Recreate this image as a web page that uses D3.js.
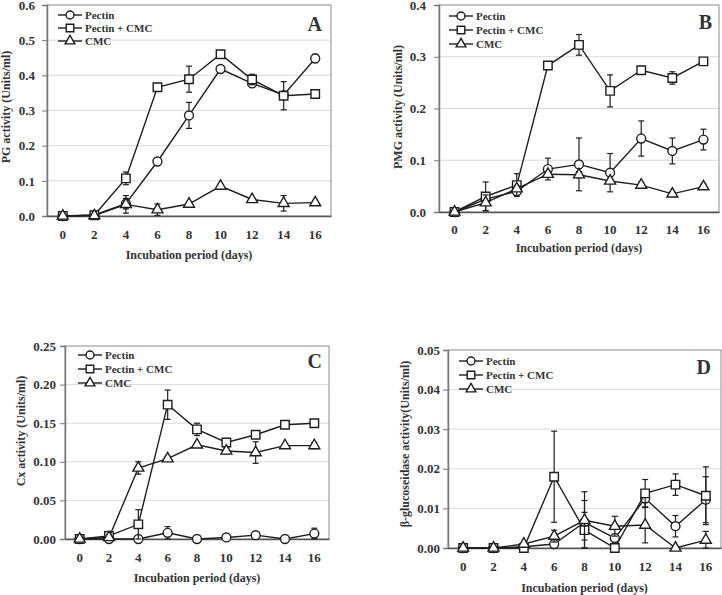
<!DOCTYPE html>
<html><head><meta charset="utf-8">
<script src="https://cdn.jsdelivr.net/npm/d3@7/dist/d3.min.js"></script>
<style>
body{margin:0;background:#fff;}
text{font-family:"Liberation Serif","Times New Roman",serif;font-weight:bold;fill:#333;}
</style></head>
<body><svg id="c" width="722" height="595"></svg>
<script>
const days = ["0","2","4","6","8","10","12","14","16"];
const seriesNames = ["Pectin","Pectin + CMC","CMC"];

// Panel A – PG activity
const pgPectin = [0,0.003,0.035,0.155,0.286,0.418,0.377,0.344,0.448];
const pgPectinErr = [0,0.002,0.015,0.004,0.037,0.005,0.010,0.006,0.012];
const pgMix = [0,0.002,0.107,0.366,0.389,0.460,0.388,0.342,0.347];
const pgMixErr = [0,0.002,0.018,0.005,0.037,0.005,0.015,0.040,0.010];
const pgCMC = [0,0.001,0.033,0.018,0.034,0.085,0.047,0.036,0.038];
const pgCMCErr = [0,0.001,0.025,0.016,0.004,0.005,0.004,0.022,0.004];
const pgTicks = [0,0.1,0.2,0.3,0.4,0.5,0.6];

// Panel B – PMG activity
const pmgPectin = [0,0.025,0.040,0.083,0.092,0.076,0.142,0.118,0.140];
const pmgPectinErr = [0,0.005,0.005,0.021,0.051,0.037,0.034,0.025,0.020];
const pmgMix = [0,0.030,0.052,0.283,0.323,0.234,0.274,0.259,0.291];
const pmgMixErr = [0,0.028,0.022,0.006,0.020,0.031,0.004,0.012,0.004];
const pmgCMC = [0,0.018,0.045,0.073,0.072,0.060,0.052,0.035,0.049];
const pmgCMCErr = [0,0.015,0.005,0.004,0.006,0.005,0.006,0.003,0.005];
const pmgTicks = [0,0.1,0.2,0.3,0.4];

// Panel C – Cx activity
const cxPectin = [0,0,0,0.008,0,0.002,0.005,0,0.007];
const cxPectinErr = [0,0,0,0.008,0,0.002,0.003,0,0.007];
const cxMix = [0,0.004,0.019,0.174,0.142,0.125,0.135,0.148,0.150];
const cxMixErr = [0,0.001,0.019,0.019,0.008,0.004,0.002,0.002,0.004];
const cxCMC = [0,0.002,0.092,0.104,0.122,0.114,0.112,0.121,0.121];
const cxCMCErr = [0,0.001,0.008,0.003,0.003,0.004,0.014,0.002,0.004];
const cxTicks = [0,0.05,0.10,0.15,0.20,0.25];

// Panel D – β-glucosidase activity
const bgPectin = [0,0,0.0003,0.001,0.0065,0.0025,0.0125,0.0055,0.0122];
const bgPectinErr = [0,0,0,0.0005,0.0077,0.001,0.0022,0.0027,0.0058];
const bgMix = [0,0,0,0.018,0.0045,0,0.0138,0.016,0.0132];
const bgMixErr = [0,0,0,0.0115,0.0045,0,0.0035,0.0027,0.0073];
const bgCMC = [0,0,0.001,0.003,0.007,0.0055,0.0058,0,0.002];
const bgCMCErr = [0,0,0.0003,0.0015,0.005,0.0025,0.0045,0,0.0022];
const bgTicks = [0,0.01,0.02,0.03,0.04,0.05];

const panels = [
  {letter:"A", ytitle:"PG activity (Units/ml)", vals:[pgPectin,pgMix,pgCMC], errs:[pgPectinErr,pgMixErr,pgCMCErr], ticks:pgTicks, fmt:".1f",
   x0:47,x1:331,y0:216,y1:5, tickGap:12, xlabY:239, xtitY:259, ytX:10, ytY:107, letX:322, letY:31, legX:58, legY:15, legDy:13},
  {letter:"B", ytitle:"PMG activity (Units/ml)", vals:[pmgPectin,pmgMix,pmgCMC], errs:[pmgPectinErr,pmgMixErr,pmgCMCErr], ticks:pmgTicks, fmt:".1f",
   x0:439,x1:719,y0:212,y1:5, tickGap:13, xlabY:234, xtitY:252, ytX:402, ytY:107, letX:712, letY:29, legX:449, legY:16, legDy:14},
  {letter:"C", ytitle:"Cx activity  (Units/ml)", vals:[cxPectin,cxMix,cxCMC], errs:[cxPectinErr,cxMixErr,cxCMCErr], ticks:cxTicks, fmt:".2f",
   x0:65,x1:329,y0:539,y1:346, tickGap:9, xlabY:562, xtitY:582, ytX:25, ytY:431, letX:322, letY:368, legX:78, legY:355, legDy:14},
  {letter:"D", ytitle:"β-glucoseidase activity(Units/ml)", vals:[bgPectin,bgMix,bgCMC], errs:[bgPectinErr,bgMixErr,bgCMCErr], ticks:bgTicks, fmt:".2f",
   x0:448,x1:721,y0:548,y1:350, tickGap:8, xlabY:571, xtitY:592, ytX:409, ytY:444, letX:711, letY:374, legX:459, legY:361, legDy:14}
];

const symTypes = [d3.symbolCircle, d3.symbolSquare, d3.symbolTriangle];
const symSizes = [62, 72, 52];
const ink = "#1e1e1e";
const svg = d3.select("#c");

panels.forEach(p => {
  const g = svg.append("g");
  const x = d3.scaleBand().domain(days).range([p.x0, p.x1]).padding(0);
  const ymax = p.ticks[p.ticks.length-1];
  const y = d3.scaleLinear().domain([0, ymax]).range([p.y0, p.y1]);
  const cx = d => x(d) + x.bandwidth()/2;

  g.append("g").selectAll("line").data(p.ticks.filter(t => t>0 && t<ymax)).join("line")
    .attr("x1", p.x0).attr("x2", p.x1).attr("y1", d=>y(d)).attr("y2", d=>y(d))
    .attr("stroke", "#d9d9d9").attr("stroke-width", 1);
  g.append("rect").attr("x", p.x0).attr("y", p.y1).attr("width", p.x1-p.x0).attr("height", p.y0-p.y1)
    .attr("fill","none").attr("stroke","#8c8c8c").attr("stroke-width",1);

  const ya = d3.axisLeft(y).tickValues(p.ticks).tickFormat(d3.format(p.fmt)).tickSize(5).tickPadding(p.tickGap-5);
  const yg = g.append("g").attr("transform", `translate(${p.x0},0)`).call(ya);
  yg.select(".domain").attr("stroke","#777").attr("stroke-width",1.5);
  yg.selectAll(".tick line").attr("stroke","#777");
  yg.selectAll("text").style("font-size","13px").attr("fill","#333");

  const xa = d3.axisBottom(x).tickSize(0).tickPadding(0);
  const xg = g.append("g").attr("transform", `translate(0,${p.y0})`).call(xa);
  xg.select(".domain").attr("stroke","#555").attr("stroke-width",1.5);
  xg.selectAll("text").style("font-size","13px").attr("fill","#333")
    .attr("dy", null).attr("y", p.xlabY - p.y0);

  g.append("text").attr("x", (p.x0+p.x1)/2).attr("y", p.xtitY).attr("text-anchor","middle")
    .style("font-size","12px").text("Incubation period (days)");
  g.append("text").attr("transform", `translate(${p.ytX},${p.ytY}) rotate(-90)`).attr("text-anchor","middle")
    .style("font-size","12px").text(p.ytitle);
  g.append("text").attr("x", p.letX).attr("y", p.letY).attr("text-anchor","end")
    .style("font-size","20px").attr("fill","#222").text(p.letter);

  p.vals.forEach((vals, si) => {
    const errs = p.errs[si];
    const pts = days.map((d,i) => ({d, v: vals[i], e: errs[i]}));
    const sg = g.append("g");
    sg.append("path").datum(pts)
      .attr("d", d3.line().x(q=>cx(q.d)).y(q=>y(q.v)))
      .attr("fill","none").attr("stroke", ink).attr("stroke-width",1.4);
    const eb = sg.append("g").selectAll("g").data(pts.filter(q=>q.e>0)).join("g");
    eb.append("line").attr("x1",q=>cx(q.d)).attr("x2",q=>cx(q.d))
      .attr("y1",q=>y(q.v+q.e)).attr("y2",q=>y(Math.max(0,q.v-q.e)))
      .attr("stroke",ink).attr("stroke-width",1.2);
    eb.append("line").attr("x1",q=>cx(q.d)-3).attr("x2",q=>cx(q.d)+3)
      .attr("y1",q=>y(q.v+q.e)).attr("y2",q=>y(q.v+q.e)).attr("stroke",ink).attr("stroke-width",1.2);
    eb.append("line").attr("x1",q=>cx(q.d)-3).attr("x2",q=>cx(q.d)+3)
      .attr("y1",q=>y(Math.max(0,q.v-q.e))).attr("y2",q=>y(Math.max(0,q.v-q.e))).attr("stroke",ink).attr("stroke-width",1.2);
    sg.append("g").selectAll("path").data(pts).join("path")
      .attr("transform", q=>`translate(${cx(q.d)},${y(q.v)})`)
      .attr("d", d3.symbol().type(symTypes[si]).size(symSizes[si]))
      .attr("fill","#fff").attr("stroke",ink).attr("stroke-width",1.4);
  });

  seriesNames.forEach((name, si) => {
    const ly = p.legY + si*p.legDy;
    g.append("line").attr("x1", p.legX).attr("x2", p.legX+24).attr("y1", ly).attr("y2", ly)
      .attr("stroke", ink).attr("stroke-width",1.4);
    g.append("path").attr("transform", `translate(${p.legX+12},${ly})`)
      .attr("d", d3.symbol().type(symTypes[si]).size(symSizes[si]*0.8))
      .attr("fill","#fff").attr("stroke",ink).attr("stroke-width",1.4);
    g.append("text").attr("x", p.legX+27).attr("y", ly+4).style("font-size","11px").attr("fill","#222").text(name);
  });
});
</script></body></html>
